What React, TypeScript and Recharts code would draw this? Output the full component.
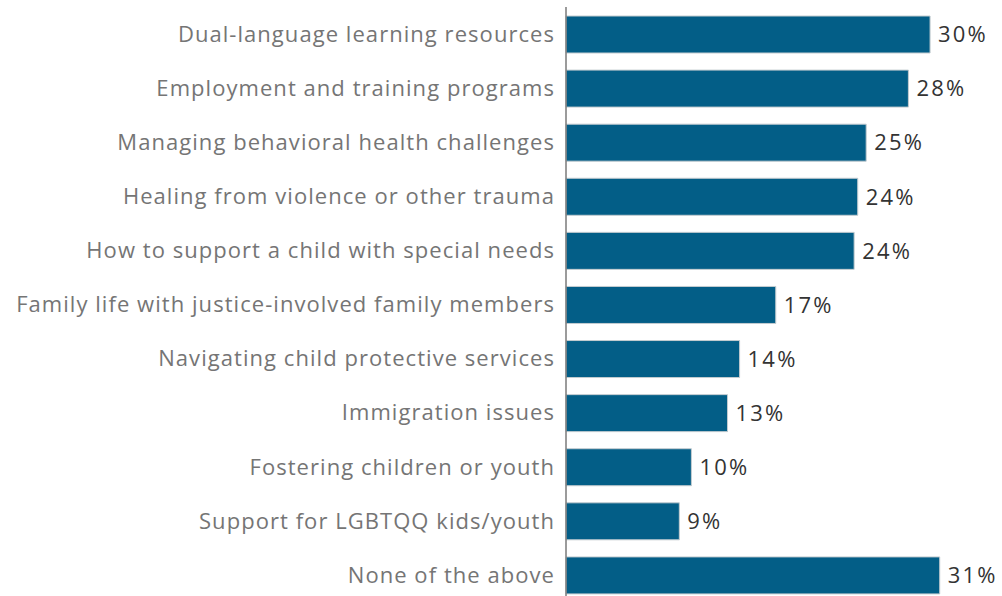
import React from "react";
import { BarChart, Bar, XAxis, YAxis, LabelList } from "recharts";

const categories = [
  "Dual-language learning resources",
  "Employment and training programs",
  "Managing behavioral health challenges",
  "Healing from violence or other trauma",
  "How to support a child with special needs",
  "Family life with justice-involved family members",
  "Navigating child protective services",
  "Immigration issues",
  "Fostering children or youth",
  "Support for LGBTQQ kids/youth",
  "None of the above",
];

const shares = [30.2, 28.4, 24.9, 24.2, 23.9, 17.4, 14.4, 13.4, 10.4, 9.4, 31.0];

const data = categories.map((name, i) => ({ name, value: shares[i] }));

const FONT = "'Open Sans', sans-serif";

export default function App() {
  return (
    <div style={{ position: "fixed", left: 0, top: 0, width: 1002, height: 596, background: "#fff" }}>
      <BarChart
        width={1002}
        height={596}
        data={data}
        layout="vertical"
        margin={{ top: 7, right: 2, left: 0, bottom: -6 }}
        barSize={37}
      >
        <XAxis type="number" domain={[0, 36]} hide />
        <YAxis
          type="category"
          dataKey="name"
          width={566}
          tickSize={0}
          tickMargin={11}
          tickLine={false}
          axisLine={{ stroke: "#7a7a7a", strokeWidth: 1.5 }}
          interval={0}
          tick={{ fill: "#757575", fontSize: 22, fontFamily: FONT, letterSpacing: 1.05 }}
        />
        <Bar dataKey="value" fill="#035e87" stroke="#c4ccd0" strokeWidth={1} isAnimationActive={false}>
          <LabelList
            dataKey="value"
            position="right"
            offset={8}
            formatter={(v: number) => `${Math.round(v)}%`}
            style={{ fill: "#333", fontSize: 22, fontFamily: FONT, letterSpacing: 2.2 }}
          />
        </Bar>
      </BarChart>
    </div>
  );
}
